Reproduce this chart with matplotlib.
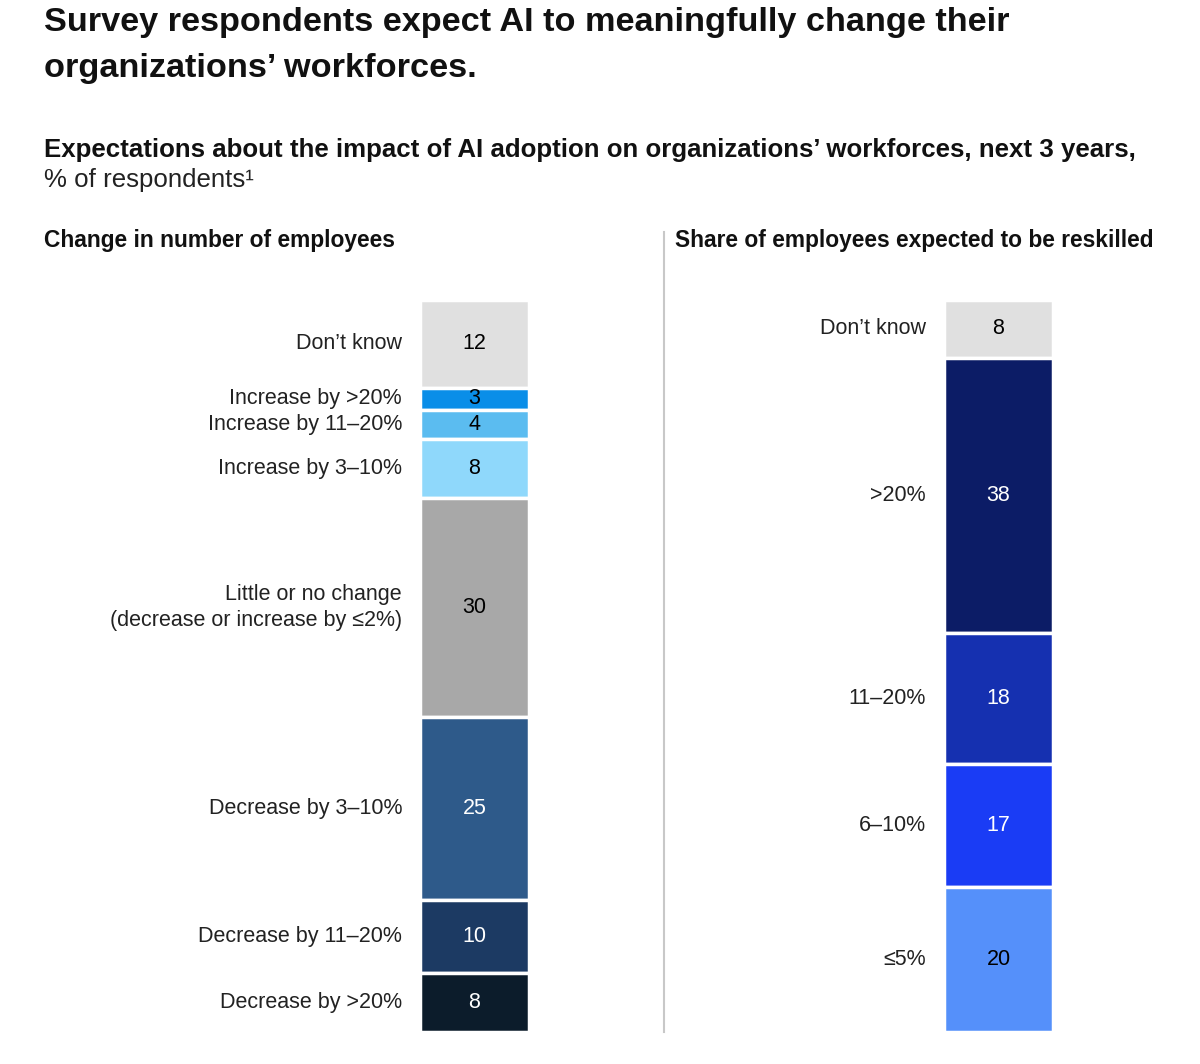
import matplotlib
matplotlib.use("Agg")
import matplotlib.pyplot as plt
from matplotlib.lines import Line2D

plt.rcParams['font.family'] = ['Liberation Sans', 'DejaVu Sans']

# left panel: change in number of employees (top to bottom)
left_labels = ["Don\u2019t know", "Increase by >20%", "Increase by 11\u201320%",
               "Increase by 3\u201310%", "Little or no change\n(decrease or increase by \u22642%)",
               "Decrease by 3\u201310%", "Decrease by 11\u201320%", "Decrease by >20%"]
left_values = [12, 3, 4, 8, 30, 25, 10, 8]
left_colors = ["#e0e0e0", "#0a8ee8", "#5bbcf0", "#8fd8fb", "#a8a8a8",
               "#2e5a8a", "#1c3a63", "#0c1c2b"]
left_text = ["black", "black", "black", "black", "black", "white", "white", "white"]

# right panel: share of employees expected to be reskilled (top to bottom)
right_labels = ["Don\u2019t know", ">20%", "11\u201320%", "6\u201310%", "\u22645%"]
right_values = [8, 38, 18, 17, 20]
right_colors = ["#e0e0e0", "#0c1c66", "#1530b0", "#1a3cf5", "#5590fa"]
right_text = ["black", "white", "white", "white", "black"]

W, H = 1200, 1064
fig = plt.figure(figsize=(W / 100, H / 100), dpi=100)


def fy(y):
    return 1 - y / H


def stacked(x0, labels, values, colors, tcolors):
    ax = fig.add_axes([x0 / W, 1 - 1032 / H, 109 / W, 732 / H])
    total = sum(values)
    bottom = 0
    for lab, v, c, tc in zip(labels, values, colors, tcolors):
        ax.bar(0.5, v, width=1, bottom=bottom, color=c, edgecolor="white", linewidth=2.5)
        mid = bottom + v / 2
        ax.text(0.5, mid, str(v), ha="center", va="center", fontsize=15.5, color=tc)
        ax.text(-0.165, mid, lab, ha="right", va="center", fontsize=15.5,
                color="#222222", linespacing=1.3)
        bottom += v
    ax.set_xlim(0, 1)
    ax.set_ylim(total, 0)
    ax.axis("off")
    return ax


stacked(420, left_labels, left_values, left_colors, left_text)
stacked(944, right_labels, right_values, right_colors, right_text)

fig.text(44 / W, fy(22), "Survey respondents expect AI to meaningfully change their",
         fontsize=24.7, fontweight="bold", va="center", color="#111111")
fig.text(44 / W, fy(68), "organizations\u2019 workforces.",
         fontsize=24.7, fontweight="bold", va="center", color="#111111")
fig.text(44 / W, fy(150),
         "Expectations about the impact of AI adoption on organizations\u2019 workforces, next 3 years,",
         fontsize=18.6, fontweight="bold", va="center", color="#111111")
fig.text(44 / W, fy(180), "% of respondents\u00b9", fontsize=18.6, va="center", color="#222222")
fig.text(44 / W, fy(241), "Change in number of employees",
         fontsize=16.4, fontweight="bold", va="center", color="#111111")
fig.text(675 / W, fy(241), "Share of employees expected to be reskilled",
         fontsize=16.4, fontweight="bold", va="center", color="#111111")

fig.add_artist(Line2D([664 / W, 664 / W], [fy(232), fy(1032)],
                      color="#c8c8c8", linewidth=1.5))

fig.savefig("out.png", dpi=100, facecolor="white")
